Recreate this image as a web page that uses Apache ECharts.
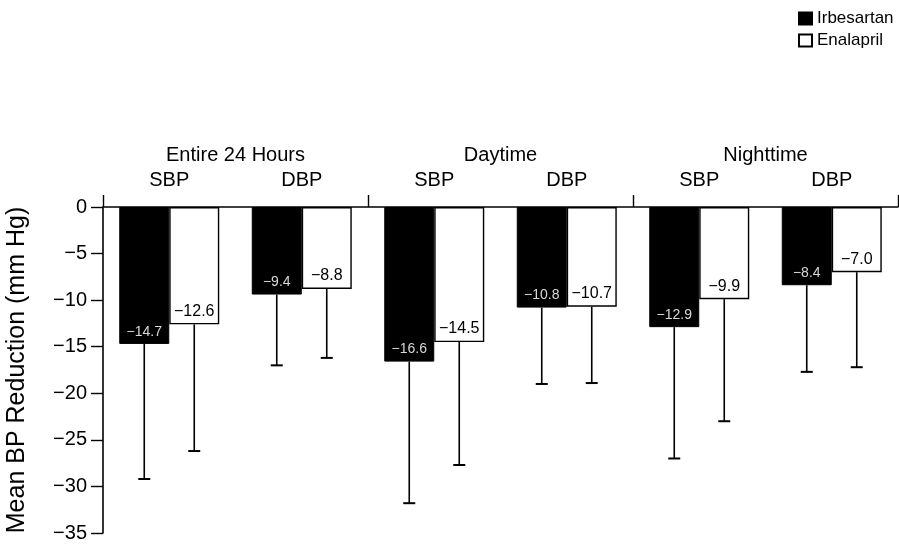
<!DOCTYPE html>
<html>
<head>
<meta charset="utf-8">
<script src="https://cdn.jsdelivr.net/npm/echarts@6/dist/echarts.min.js"></script>
<style>html,body{margin:0;padding:0;background:#fff;}#c{width:899px;height:544px;}</style>
</head>
<body>
<div id="c"></div>
<script>
const groups = ['Entire 24 Hours', 'Daytime', 'Nighttime'];
const categories = ['SBP', 'DBP', 'SBP', 'DBP', 'SBP', 'DBP'];
const seriesNames = ['Irbesartan', 'Enalapril'];
const irbesartan = [-14.7, -9.4, -16.6, -10.8, -12.9, -8.4];
const enalapril = [-12.6, -8.8, -14.5, -10.7, -9.9, -7.0];
const irbesartanLow = [-29.2, -17.0, -31.8, -19.0, -27.0, -17.7];
const enalaprilLow = [-26.2, -16.2, -27.7, -18.9, -23.0, -17.2];
const yTicks = [0, -5, -10, -15, -20, -25, -30, -35];

const FONT = '"Liberation Sans", Arial, Helvetica, sans-serif';
const BAR_W = 50;
const fmt = v => String(v).replace('-', '\u2212');
const fmt1 = v => (v < 0 ? '\u2212' : '') + Math.abs(v).toFixed(1);

function errData(vals, lows) { return vals.map((v, i) => [i, v, lows[i]]); }
function errRender(side) {
  return function (params, api) {
    const i = api.value(0);
    const top = api.coord([i, api.value(1)]);
    const bot = api.coord([i, api.value(2)]);
    const x = top[0] + side * BAR_W / 2;
    return {
      type: 'group',
      children: [
        { type: 'line', shape: { x1: x, y1: top[1], x2: x, y2: bot[1] }, style: { stroke: '#000', lineWidth: 1.6 } },
        { type: 'line', shape: { x1: x - 6, y1: bot[1], x2: x + 6, y2: bot[1] }, style: { stroke: '#000', lineWidth: 2 } }
      ]
    };
  };
}

const chart = echarts.init(document.getElementById('c'));
chart.setOption({
  animation: false,
  backgroundColor: '#fff',
  textStyle: { fontFamily: FONT },
  grid: { left: 103, right: 1, top: 207, bottom: 11, containLabel: false, outerBoundsMode: 'none' },
  legend: {
    data: seriesNames,
    orient: 'vertical',
    left: 793,
    top: 5,
    itemWidth: 13,
    itemHeight: 12,
    itemGap: 5,
    icon: 'rect',
    textStyle: { fontFamily: FONT, fontSize: 17, color: '#000' }
  },
  xAxis: [
    {
      type: 'category',
      position: 'top',
      data: categories,
      axisLine: { show: true, onZero: false, lineStyle: { color: '#000', width: 1.6 } },
      axisTick: { show: false },
      axisLabel: { fontFamily: FONT, fontSize: 20, color: '#000', margin: 17, interval: 0 },
      splitLine: { show: false }
    },
    {
      type: 'category',
      position: 'top',
      data: groups,
      axisLine: { show: false },
      axisTick: { show: true, length: 12, lineStyle: { color: '#000', width: 1.4 } },
      axisLabel: { fontFamily: FONT, fontSize: 20, color: '#000', margin: 42, interval: 0 },
      splitLine: { show: false }
    }
  ],
  yAxis: {
    type: 'value',
    min: -35,
    max: 0,
    interval: 5,
    name: 'Mean BP Reduction (mm Hg)',
    nameLocation: 'middle',
    nameGap: 73,
    nameRotate: 90,
    nameTextStyle: { fontFamily: FONT, fontSize: 25, color: '#000' },
    axisLine: { show: true, lineStyle: { color: '#000', width: 1.6 } },
    axisTick: { show: true, length: 12, lineStyle: { color: '#000', width: 1.4 } },
    axisLabel: { fontFamily: FONT, fontSize: 20, color: '#000', margin: 16, formatter: v => yTicks.includes(v) ? fmt(v) : '' },
    splitLine: { show: false }
  },
  series: [
    {
      name: seriesNames[0],
      type: 'bar',
      xAxisIndex: 0,
      data: irbesartan,
      barWidth: BAR_W,
      barGap: '0%',
      itemStyle: { color: '#000', borderColor: '#000', borderWidth: 1 },
      label: { show: true, position: 'insideBottom', distance: 5, formatter: p => fmt1(p.value), color: '#d8d8d8', fontSize: 14, fontFamily: FONT },
      z: 2
    },
    {
      name: seriesNames[1],
      type: 'bar',
      xAxisIndex: 0,
      data: enalapril,
      barWidth: BAR_W,
      barGap: '0%',
      itemStyle: { color: '#fff', borderColor: '#000', borderWidth: 1.4 },
      label: { show: true, position: 'insideBottom', distance: 5, formatter: p => fmt1(p.value), color: '#000', fontSize: 16, fontFamily: FONT },
      z: 2
    },
    {
      name: 'irbErr', type: 'custom', xAxisIndex: 0, data: errData(irbesartan, irbesartanLow),
      renderItem: errRender(-1), encode: { x: 0, y: [1, 2] }, z: 3, silent: true
    },
    {
      name: 'enaErr', type: 'custom', xAxisIndex: 0, data: errData(enalapril, enalaprilLow),
      renderItem: errRender(1), encode: { x: 0, y: [1, 2] }, z: 3, silent: true
    }
  ]
});
</script>
</body>
</html>
